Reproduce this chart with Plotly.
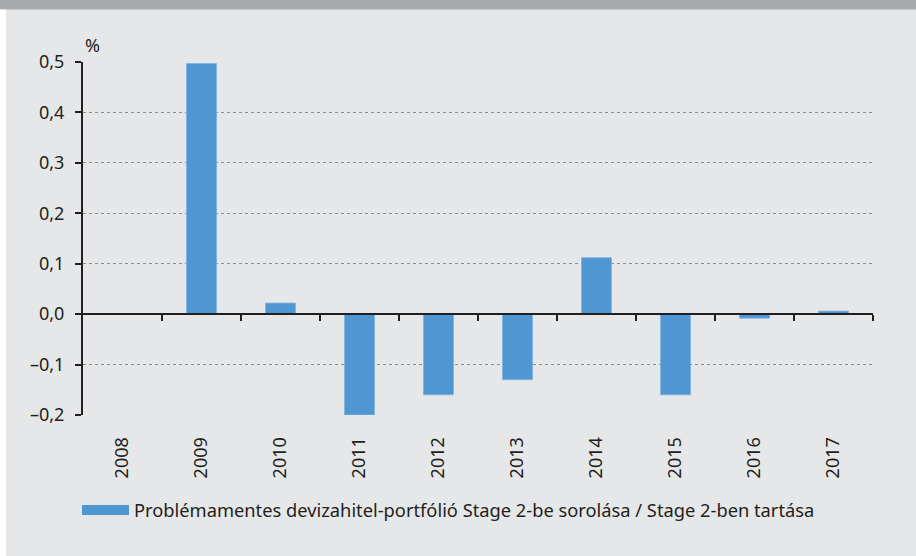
import plotly.graph_objects as go

years = ["2008", "2009", "2010", "2011", "2012", "2013", "2014", "2015", "2016", "2017"]
values = [0.0, 0.497, 0.022, -0.200, -0.160, -0.130, 0.112, -0.160, -0.008, 0.006]
series_name = "Problémamentes devizahitel-portfólió Stage 2-be sorolása / Stage 2-ben tartása"
y_tickvals = [-0.2, -0.1, 0.0, 0.1, 0.2, 0.3, 0.4, 0.5]
y_ticktext = ["–0,2", "–0,1", "0,0", "0,1", "0,2", "0,3", "0,4", "0,5"]
y_range = [-0.2, 0.5]
unit_label = "%"

BAR_COLOR = "#4f97d3"
BG = "#e6e7e8"
FONT = "Noto Sans"
W, H = 916, 556
L, R, T, B = 83, 43, 62, 141
pw, ph = W - L - R, H - T - B

def px_x(p):
    return (p - L) / pw

def px_y(p):
    return (H - B - p) / ph

fig = go.Figure()
fig.add_trace(go.Bar(
    x=years, y=values, marker=dict(color=BAR_COLOR, line=dict(color="#7db3e2", width=0.8)),
    showlegend=False, name=series_name, xaxis="x", yaxis="y",
))
# legend entry (wide swatch)
fig.add_trace(go.Scatter(
    x=[None], y=[None], mode="lines", line=dict(color=BAR_COLOR, width=11),
    name=series_name, showlegend=True,
))
# zero-line axis with ticks at category boundaries
n = len(years)
fig.add_trace(go.Scatter(x=[-0.5, n - 0.5], y=[None, None], xaxis="x2", yaxis="y",
                         showlegend=False, hoverinfo="skip"))

zero_frac = (0 - y_range[0]) / (y_range[1] - y_range[0])

fig.update_layout(
    width=W, height=H,
    margin=dict(l=L, r=R, t=T, b=B, pad=0),
    paper_bgcolor=BG, plot_bgcolor=BG,
    font=dict(family=FONT, size=18, color="#231f20"),
    bargap=0.62,
    xaxis=dict(
        type="category", categoryorder="array", categoryarray=years,
        range=[-0.5, n - 0.5],
        showline=False, showgrid=False, zeroline=False,
        ticks="outside", ticklen=14, tickcolor="rgba(0,0,0,0)",
        tickangle=-90, tickfont=dict(size=18),
    ),
    xaxis2=dict(
        overlaying="x", anchor="free", position=zero_frac,
        range=[-0.5, n - 0.5], showgrid=False, zeroline=False,
        showline=True, linecolor="#231f20", linewidth=2,
        ticks="outside", ticklen=6, tickwidth=2, tickcolor="#231f20",
        tickvals=[i + 0.5 for i in range(n)], showticklabels=False,
    ),
    yaxis=dict(
        range=y_range, tickvals=y_tickvals, ticktext=y_ticktext,
        showline=True, linecolor="#231f20", linewidth=2,
        ticks="outside", ticklen=6, tickwidth=2, tickcolor="#231f20",
        ticklabelstandoff=7,
        showgrid=True, gridcolor="#8c8c8c", gridwidth=1, griddash="dot",
        zeroline=False, tickfont=dict(size=18),
    ),
    legend=dict(
        orientation="h", x=px_x(77), y=px_y(510), xanchor="left", yanchor="middle",
        bgcolor="rgba(0,0,0,0)", font=dict(size=18.3), itemwidth=47,
    ),
    annotations=[dict(
        text=unit_label, x=0, y=px_y(45), xref="paper", yref="paper",
        xanchor="left", yanchor="middle", showarrow=False, font=dict(size=18),
    )],
    shapes=[
        dict(type="rect", xref="paper", yref="paper", x0=px_x(0), x1=px_x(W),
             y0=px_y(9.5), y1=px_y(0), fillcolor="#a7a9ac", line=dict(width=0), layer="below"),
        dict(type="rect", xref="paper", yref="paper", x0=px_x(0), x1=px_x(6),
             y0=px_y(H), y1=px_y(9.5), fillcolor="#ffffff", line=dict(width=0), layer="below"),
    ],
)

fig.write_html("out.html", config={"displayModeBar": False, "responsive": False})

with open("out.html", "r", encoding="utf-8") as f:
    html = f.read()
html = html.replace(
    "<head>",
    "<head><style>html,body{margin:0;padding:0;overflow:hidden;background:%s;}</style>" % BG,
    1,
)
with open("out.html", "w", encoding="utf-8") as f:
    f.write(html)
